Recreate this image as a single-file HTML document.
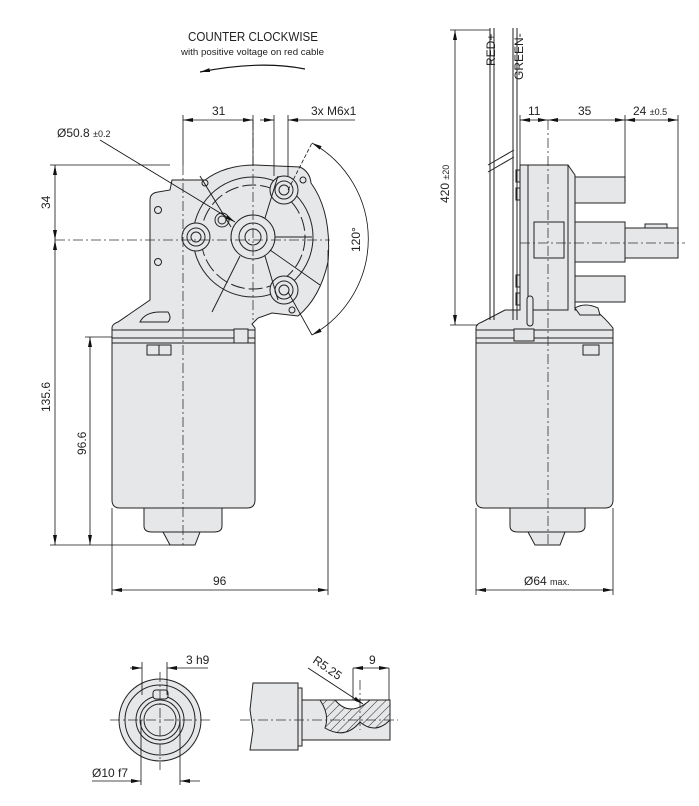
<!DOCTYPE html>
<html><head><meta charset="utf-8"><style>
html,body{margin:0;padding:0;background:#fff}
svg{display:block}
text{font-family:"Liberation Sans",Arial,sans-serif;fill:#222}
</style></head><body>
<svg width="699" height="806" viewBox="0 0 699 806" xmlns="http://www.w3.org/2000/svg">
<defs>
<marker id="a" viewBox="0 0 10 4" refX="10" refY="2" markerWidth="10" markerHeight="4" orient="auto-start-reverse" markerUnits="userSpaceOnUse"><path d="M0,0 L10,2 L0,4 z" fill="#111"/></marker>
<pattern id="h" width="6" height="6" patternUnits="userSpaceOnUse" patternTransform="rotate(45)"><rect width="6" height="6" fill="#e6e7e8"/><line x1="0" y1="0" x2="0" y2="6" stroke="#333" stroke-width="1"/></pattern>
</defs>
<g stroke="#222" stroke-width="1" fill="#e6e7e8">
<path d="M112,343 L112,500 Q112,508 120,508 L247,508 Q255,508 255,500 L255,343 z"/>
<path d="M144,508 L144,526 Q144,532 152,532 L214,532 Q222,532 222,526 L222,508 z"/>
<path d="M163,532 L170,545 L195,545 L200,532 z"/>
<path d="M112,343 L112,328 Q112,324 118,322 L150,300 L150,200 Q150,193 158,192 L170,190 L172,180 L205,180 Q225,165 255,165 L300,167 Q310,172 311,183 Q332,212 328,262 Q320,298 298,316 L272,313 L258,318 L252,324 L255,328 L255,343 z"/>
<line x1="112" y1="330" x2="255" y2="330"/>
<line x1="112" y1="338" x2="255" y2="338"/>
<rect x="234" y="329" width="14" height="14"/>
<rect x="147" y="345" width="24" height="10"/>
<line x1="159" y1="345" x2="159" y2="355"/>
<path d="M140,322 Q145,312 160,312 L168,312 Q172,318 168,322 z"/>
<circle cx="253" cy="237" r="60" fill="none"/>
<circle cx="253" cy="237" r="52" fill="none" stroke-dasharray="14 4"/>
<circle cx="253" cy="237" r="22"/>
<circle cx="253" cy="237" r="14"/>
<circle cx="253" cy="237" r="8"/>
<circle cx="196" cy="237" r="14"/><circle cx="196" cy="237" r="9"/><circle cx="196" cy="237" r="5"/>
<circle cx="284" cy="190" r="14"/><circle cx="284" cy="190" r="9"/><circle cx="284" cy="190" r="5"/>
<circle cx="284" cy="290" r="14"/><circle cx="284" cy="290" r="9"/><circle cx="284" cy="290" r="5"/>
<circle cx="222" cy="220" r="7"/><circle cx="222" cy="220" r="4"/>
<circle cx="158" cy="210" r="3.5"/><circle cx="158" cy="262" r="3.5"/>
<circle cx="205" cy="183" r="3"/><circle cx="303" cy="180" r="3"/><circle cx="292" cy="310" r="3"/>
<line x1="231" y1="227" x2="200" y2="176" fill="none"/>
<line x1="265" y1="218" x2="278" y2="176"/>
<line x1="265" y1="256" x2="278" y2="300"/>
<line x1="240" y1="256" x2="212" y2="312"/>
<line x1="275" y1="237" x2="312" y2="237"/>
<path d="M476,343 L476,500 Q476,508 484,508 L605,508 Q613,508 613,500 L613,343 z"/>
<path d="M510,508 L510,526 Q510,532 518,532 L577,532 Q585,532 585,526 L585,508 z"/>
<path d="M528,532 L535,545 L560,545 L565,532 z"/>
<path d="M476,343 L476,328 Q476,324 482,322 L505,310 L520,310 L520,165 L568,165 L575,175 L575,310 L595,310 Q605,318 613,328 L613,343 z"/>
<line x1="476" y1="330" x2="613" y2="330"/>
<line x1="476" y1="338" x2="613" y2="338"/>
<rect x="514" y="329" width="20" height="12"/>
<rect x="583" y="345" width="16" height="10"/>
<rect x="575" y="177" width="50" height="26"/>
<rect x="575" y="222" width="50" height="40"/>
<rect x="575" y="276" width="50" height="26"/>
<rect x="625" y="228" width="53" height="30"/>
<rect x="645" y="224" width="22" height="4"/>
<rect x="528" y="165" width="40" height="145"/>
<rect x="534" y="222" width="30" height="36"/>
<rect x="516" y="170" width="4" height="12"/><rect x="516" y="188" width="4" height="12"/>
<rect x="516" y="275" width="4" height="12"/><rect x="516" y="293" width="4" height="12"/>
<rect x="527" y="296" width="6" height="30" rx="3"/>
<path d="M575,308 Q585,302 598,308 L600,315 L580,315 z"/>
<circle cx="160" cy="720" r="41"/>
<circle cx="160" cy="720" r="35"/>
<circle cx="160" cy="720" r="24"/>
<circle cx="160" cy="720" r="20"/>
<circle cx="160" cy="720" r="16"/>
<rect x="153" y="690" width="15" height="9" rx="3"/>
<path d="M253,683 L298,683 L298,750 L250,750 L253,730 L250,710 z"/>
<rect x="298" y="688" width="4" height="58"/>
<rect x="302" y="700" width="88" height="40"/>
<path d="M320,700 L390,700 L390,720 Q375,735 360,722 Q345,740 325,728 Q330,715 320,700 z" fill="url(#h)"/>
<path d="M335,700 Q350,718 370,700 z" fill="#fff"/>
</g>
<g stroke="#222" fill="none" stroke-width="1">
<line x1="490" y1="28" x2="490" y2="320"/><line x1="494" y1="28" x2="494" y2="320"/>
<line x1="513" y1="28" x2="513" y2="320"/><line x1="517" y1="28" x2="517" y2="320"/>
<line x1="488" y1="165" x2="514" y2="150"/><line x1="488" y1="172" x2="514" y2="157"/>
</g>
<g stroke="#333" stroke-width="0.8" stroke-dasharray="10 3 2 3" fill="none">
<line x1="183" y1="165" x2="183" y2="545"/>
<line x1="253" y1="120" x2="253" y2="320"/>
<line x1="55" y1="240" x2="330" y2="240"/>
<line x1="548" y1="120" x2="548" y2="545"/>
<line x1="520" y1="243" x2="685" y2="243"/>
<line x1="160" y1="672" x2="160" y2="770"/>
<line x1="110" y1="720" x2="210" y2="720"/>
<line x1="240" y1="720" x2="398" y2="720"/>
<line x1="360" y1="680" x2="360" y2="730"/>
</g>
<g stroke="#111" stroke-width="0.8" fill="none">
<line x1="50" y1="165" x2="170" y2="165"/>
<line x1="50" y1="545" x2="170" y2="545"/>
<line x1="85" y1="337" x2="112" y2="337"/>
<line x1="55" y1="165" x2="55" y2="240" marker-start="url(#a)" marker-end="url(#a)"/>
<line x1="55" y1="240" x2="55" y2="545" marker-start="url(#a)" marker-end="url(#a)"/>
<line x1="90" y1="337" x2="90" y2="545" marker-start="url(#a)" marker-end="url(#a)"/>
<line x1="112" y1="508" x2="112" y2="595"/><line x1="328" y1="250" x2="328" y2="595"/>
<line x1="112" y1="590" x2="328" y2="590" marker-start="url(#a)" marker-end="url(#a)"/>
<line x1="183" y1="115" x2="183" y2="165"/><line x1="253" y1="115" x2="253" y2="165"/>
<line x1="183" y1="120" x2="253" y2="120" marker-start="url(#a)" marker-end="url(#a)"/>
<line x1="274" y1="115" x2="274" y2="176"/><line x1="288" y1="115" x2="288" y2="176"/>
<line x1="260" y1="120" x2="274" y2="120" marker-end="url(#a)"/>
<line x1="355" y1="120" x2="288" y2="120" marker-end="url(#a)"/>
<line x1="100" y1="140" x2="235" y2="222" marker-end="url(#a)"/>
<line x1="270" y1="250" x2="320" y2="285"/>
<line x1="288" y1="190" x2="312" y2="143" stroke-dasharray="4 2"/>
<line x1="288" y1="292" x2="312" y2="335"/>
<path d="M312,143 A110,110 0 0 1 312,335" marker-start="url(#a)" marker-end="url(#a)"/>
<path d="M305,69 Q260,60 200,72" stroke-width="1.2" marker-end="url(#a)"/>
<line x1="450" y1="30" x2="490" y2="30"/>
<line x1="450" y1="325" x2="478" y2="325"/>
<line x1="455" y1="30" x2="455" y2="325" marker-start="url(#a)" marker-end="url(#a)"/>
<line x1="520" y1="115" x2="520" y2="165"/><line x1="625" y1="115" x2="625" y2="177"/><line x1="678" y1="115" x2="678" y2="228"/>
<line x1="520" y1="120" x2="548" y2="120" marker-start="url(#a)" marker-end="url(#a)"/>
<line x1="548" y1="120" x2="625" y2="120" marker-start="url(#a)" marker-end="url(#a)"/>
<line x1="625" y1="120" x2="678" y2="120" marker-start="url(#a)" marker-end="url(#a)"/>
<line x1="476" y1="508" x2="476" y2="595"/><line x1="613" y1="508" x2="613" y2="595"/>
<line x1="476" y1="590" x2="613" y2="590" marker-start="url(#a)" marker-end="url(#a)"/>
<line x1="142" y1="662" x2="142" y2="695"/><line x1="167" y1="662" x2="167" y2="695"/>
<line x1="130" y1="668" x2="142" y2="668" marker-end="url(#a)"/>
<line x1="208" y1="668" x2="167" y2="668" marker-end="url(#a)"/>
<line x1="141" y1="720" x2="141" y2="785"/><line x1="180" y1="720" x2="180" y2="785"/>
<line x1="92" y1="781" x2="141" y2="781" marker-end="url(#a)"/>
<line x1="200" y1="781" x2="180" y2="781" marker-end="url(#a)"/>
<line x1="353" y1="668" x2="353" y2="700"/><line x1="389" y1="668" x2="389" y2="700"/>
<line x1="353" y1="668" x2="389" y2="668" marker-start="url(#a)" marker-end="url(#a)"/>
<line x1="308" y1="668" x2="363" y2="704" marker-end="url(#a)"/>
</g>
<g font-size="12">
<text x="188" y="41" font-size="13" textLength="130" lengthAdjust="spacingAndGlyphs">COUNTER CLOCKWISE</text>
<text x="181" y="55" font-size="9.5" textLength="143" lengthAdjust="spacingAndGlyphs">with positive voltage on red cable</text>
<text x="212" y="115">31</text>
<text x="311" y="115">3x M6x1</text>
<text x="57" y="137">Ø50.8 <tspan font-size="9">±0.2</tspan></text>
<text x="50" y="209" transform="rotate(-90 50 209)">34</text>
<text x="50" y="412" transform="rotate(-90 50 412)">135.6</text>
<text x="86" y="455" transform="rotate(-90 86 455)">96.6</text>
<text x="213" y="585">96</text>
<text x="360" y="252" transform="rotate(-90 360 252)">120°</text>
<text x="449" y="203" transform="rotate(-90 449 203)">420 <tspan font-size="9">±20</tspan></text>
<text x="495" y="66" transform="rotate(-90 495 66)">RED+</text>
<text x="523" y="80" transform="rotate(-90 523 80)">GREEN-</text>
<text x="528" y="115">11</text>
<text x="578" y="115">35</text>
<text x="633" y="115">24 <tspan font-size="9">±0.5</tspan></text>
<text x="524" y="585">Ø64 <tspan font-size="9">max.</tspan></text>
<text x="186" y="664">3 h9</text>
<text x="92" y="777">Ø10 f7</text>
<text x="369" y="664">9</text>
<text x="312" y="662" transform="rotate(35 312 662)">R5.25</text>
</g>
</svg>
</body></html>
